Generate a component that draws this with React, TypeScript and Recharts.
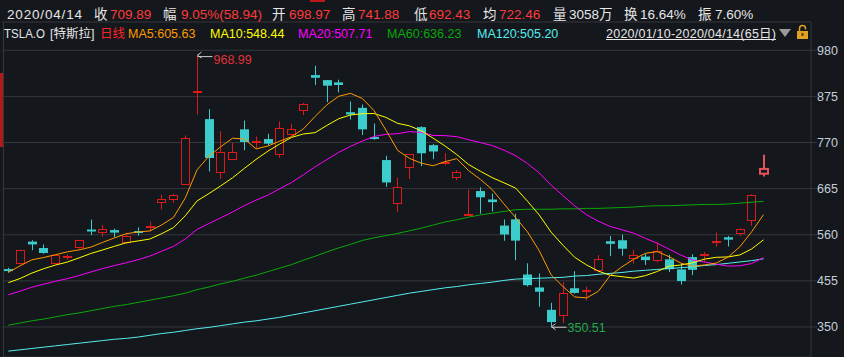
import { ComposedChart, Bar, Line, XAxis, YAxis, CartesianGrid } from 'recharts'

const FONT = "'Liberation Sans', 'Noto Sans CJK SC', sans-serif"
const BG = '#14171c'
const GRID = '#34373c'
const UP = '#dc1a1a'
const DOWN = '#3ccccc'
const PICKED = '#e4535b'

// TSLA.O daily bars, 2020/01/10 - 2020/04/14
const dates = [
  '2020/01/10', '2020/01/13', '2020/01/14', '2020/01/15', '2020/01/16', '2020/01/17', '2020/01/21', '2020/01/22',
  '2020/01/23', '2020/01/24', '2020/01/27', '2020/01/28', '2020/01/29', '2020/01/30', '2020/01/31',
  '2020/02/03', '2020/02/04', '2020/02/05', '2020/02/06', '2020/02/07', '2020/02/10', '2020/02/11', '2020/02/12',
  '2020/02/13', '2020/02/14', '2020/02/18', '2020/02/19', '2020/02/20', '2020/02/21', '2020/02/24', '2020/02/25',
  '2020/02/26', '2020/02/27', '2020/02/28',
  '2020/03/02', '2020/03/03', '2020/03/04', '2020/03/05', '2020/03/06', '2020/03/09', '2020/03/10', '2020/03/11',
  '2020/03/12', '2020/03/13', '2020/03/16', '2020/03/17', '2020/03/18', '2020/03/19', '2020/03/20', '2020/03/23',
  '2020/03/24', '2020/03/25', '2020/03/26', '2020/03/27', '2020/03/30', '2020/03/31',
  '2020/04/01', '2020/04/02', '2020/04/03', '2020/04/06', '2020/04/07', '2020/04/08', '2020/04/09', '2020/04/13',
  '2020/04/14',
]

const opens = [
  481.79, 493.5, 544.26, 529.76, 493.75, 507.61, 530.25, 571.89, 564.25, 570.63, 541.99, 568.49, 575.69, 632.42, 640.0,
  673.69, 882.96, 823.26, 699.92, 730.55, 800.0, 768.79, 777.87, 741.84, 787.22, 841.6, 923.5, 911.99, 906.99, 839.0,
  849.0, 782.5, 730.0, 629.62,
  711.26, 805.0, 763.96, 723.77, 690.0, 605.39, 659.43, 640.2, 580.89, 595.0, 469.5, 440.01, 389.0, 374.7, 438.2,
  433.6, 477.3, 545.25, 547.39, 505.0, 510.26, 501.25,
  504.0, 481.03, 509.0, 511.2, 545.0, 554.2, 562.09, 590.16, 698.97,
]
const highs = [
  484.94, 525.63, 547.41, 537.84, 514.46, 515.67, 548.58, 594.5, 582.0, 573.86, 564.44, 576.81, 589.8, 650.88, 653.0,
  786.14, 968.99, 845.98, 795.83, 769.75, 819.99, 783.51, 789.75, 818.0, 812.97, 860.0, 944.78, 912.5, 913.05, 863.5,
  856.6, 813.31, 739.76, 690.0,
  743.69, 806.98, 766.52, 745.75, 707.0, 663.0, 668.0, 653.58, 594.5, 607.57, 494.87, 471.85, 404.86, 452.0, 477.0,
  442.0, 513.69, 557.0, 560.0, 525.8, 516.65, 542.96,
  513.95, 494.26, 515.49, 521.0, 565.0, 557.21, 575.18, 652.0, 741.88,
]
const lows = [
  473.7, 492.0, 524.9, 516.79, 492.17, 503.16, 528.41, 559.1, 555.6, 554.26, 539.28, 558.08, 567.43, 618.0, 632.52,
  673.52, 833.88, 704.11, 687.0, 730.0, 752.4, 758.0, 763.37, 735.0, 785.5, 832.36, 901.02, 862.0, 884.0, 822.27,
  787.0, 776.11, 669.0, 611.52,
  686.67, 716.11, 732.2, 718.07, 684.27, 605.0, 608.0, 613.0, 546.25, 502.0, 442.17, 396.0, 350.51, 358.46, 425.79,
  410.42, 474.0, 511.11, 512.25, 494.03, 491.23, 497.0,
  475.1, 446.4, 468.0, 497.96, 532.34, 533.33, 557.11, 580.53, 692.43,
]
const closes = [
  478.15, 524.86, 537.92, 518.5, 513.49, 510.5, 547.2, 569.56, 572.2, 564.82, 558.02, 566.9, 580.99, 640.81, 650.57,
  780.0, 887.06, 734.7, 748.96, 748.07, 771.28, 774.38, 767.29, 804.0, 800.03, 858.4, 917.42, 899.41, 901.0, 833.79,
  799.91, 778.8, 679.0, 667.99,
  743.62, 745.51, 749.5, 724.54, 703.48, 608.0, 645.33, 634.23, 560.55, 546.62, 445.07, 430.2, 361.22, 427.64, 427.53,
  434.29, 505.0, 539.25, 528.16, 514.36, 502.13, 524.0,
  481.56, 454.47, 480.01, 516.24, 545.45, 548.84, 573.0, 650.95, 709.89,
]
// closes of the 19 sessions before 2020/01/10 (feed MA5 / MA10 / MA20)
const priorCloses = [
  359.68, 358.39, 381.5, 378.99, 393.15, 404.04, 405.59, 419.22, 425.25, 430.94, 430.38, 414.7, 418.33, 430.26,
  443.01, 451.54, 469.06, 492.14, 481.34,
]
// long averages
const ma60Values = [
  354, 359, 364, 368, 373, 378, 382, 387, 392, 397, 401, 406, 411, 416, 421,
  427, 435, 441, 448, 454, 461, 468, 476, 484, 492, 502, 511, 521, 530, 538,
  547, 553, 558, 563,
  569, 575, 582, 589, 594, 600, 605, 609, 613, 617, 618, 618, 618, 619, 619,
  620, 620, 621, 622, 623, 625, 626,
  626, 627, 628, 629, 629, 630, 632, 634, 636.23,
]
const ma120Values = [
  295, 298, 301, 304, 307, 310, 313, 316, 319, 322, 324, 327, 331, 335, 338,
  342, 346, 349, 353, 357, 361, 364, 368, 372, 377, 382, 387, 392, 397, 402,
  407, 412, 417, 422,
  427, 431, 435, 439, 442, 446, 449, 452, 456, 459, 460, 461, 462, 463, 466,
  467, 470, 472, 474, 477, 479, 481,
  483, 485, 487, 490, 492, 495, 498, 501, 505.2,
]
const yTicks = [350, 455, 560, 665, 770, 875, 980]
const monthStarts = ['2020/02/03', '2020/03/02', '2020/04/01']

function movingAverage(n: number) {
  const all = [...priorCloses, ...closes]
  return closes.map((_, i) => {
    const end = priorCloses.length + i + 1
    const win = all.slice(end - n, end)
    return win.reduce((a, b) => a + b, 0) / n
  })
}

const ma5 = movingAverage(5)
const ma10 = movingAverage(10)
const ma20 = movingAverage(20)

const data = dates.map((date, i) => ({
  date,
  open: opens[i],
  high: highs[i],
  low: lows[i],
  close: closes[i],
  range: [lows[i], highs[i]],
  ma5: ma5[i],
  ma10: ma10[i],
  ma20: ma20[i],
  ma60: ma60Values[i],
  ma120: ma120Values[i],
}))

const last = data.length - 1
const maxHighIdx = highs.indexOf(Math.max(...highs))
const minLowIdx = lows.indexOf(Math.min(...lows))

// month separators: centre of the first session of each month
function monthLines({ xAxis }: any) {
  try {
    const scale = xAxis.scale
    const bw = typeof scale.bandwidth === 'function' ? scale.bandwidth() : 0
    return monthStarts.map((d) => Math.round(scale(d) + bw / 2) + 0.5)
  } catch (e) {
    return []
  }
}

function Candle(props: any) {
  const { x, y, width, height, payload, index } = props
  if (x == null || payload == null) return null
  const { open, close, high, low } = payload
  const top = Math.min(y, y + height)
  const h = Math.abs(height)
  const span = high - low || 1
  const py = (v: number) => top + ((high - v) / span) * h
  const cx = Math.round(x + width / 2)
  const left = cx - 4
  const wx = cx + 0.5
  const up = close >= open
  const bTop = py(Math.max(open, close))
  const bBot = py(Math.min(open, close))
  const bh = bBot - bTop
  const picked = index === last

  let body
  if (picked) {
    body = (
      <g>
        <line x1={wx + 0.5} x2={wx + 0.5} y1={py(high)} y2={py(low)} stroke={PICKED} strokeWidth={2} />
        <rect x={left + 1} y={bTop} width={8} height={Math.max(bh, 2)} fill={BG} stroke={PICKED} strokeWidth={2} />
      </g>
    )
  } else if (up) {
    const t = Math.round(bTop)
    const b = Math.max(Math.round(bBot), t + 1)
    body = (
      <g>
        <line x1={wx} x2={wx} y1={py(high)} y2={t} stroke={UP} />
        <line x1={wx} x2={wx} y1={b} y2={py(low)} stroke={UP} />
        {b - t <= 2 ? (
          <rect x={left} y={t} width={9} height={2} fill={UP} />
        ) : (
          <rect x={left + 0.5} y={t + 0.5} width={8} height={b - t - 1} fill={BG} stroke={UP} />
        )}
      </g>
    )
  } else {
    body = (
      <g>
        <line x1={wx} x2={wx} y1={py(high)} y2={py(low)} stroke={DOWN} />
        <rect x={left} y={bTop} width={9} height={Math.max(bh, 2)} fill={DOWN} />
      </g>
    )
  }

  let note = null
  if (index === maxHighIdx) {
    const ty = py(high)
    note = (
      <g>
        <polyline points={`${wx + 4},${ty - 3} ${wx},${ty} ${wx + 4},${ty + 3}`} stroke="#cfcfcf" fill="none" />
        <line x1={wx} y1={ty + 1.5} x2={wx + 15} y2={ty + 1.5} stroke="#cfcfcf" />
        <text x={wx + 16} y={ty + 9} fill="#e0323a" fontSize={12.5} fontFamily={FONT}>
          {high.toFixed(2)}
        </text>
      </g>
    )
  } else if (index === minLowIdx) {
    const ty = py(low)
    note = (
      <g>
        <polyline points={`${wx + 4},${ty - 3} ${wx},${ty} ${wx + 4},${ty + 3}`} stroke="#cfcfcf" fill="none" />
        <line x1={wx} y1={ty + 0.5} x2={wx + 15} y2={ty + 0.5} stroke="#cfcfcf" />
        <text x={wx + 16} y={ty + 5} fill="#24a84a" fontSize={12.5} fontFamily={FONT}>
          {low.toFixed(2)}
        </text>
      </g>
    )
  }

  return (
    <g>
      {body}
      {note}
    </g>
  )
}

export default function App() {
  const cur = data[last]
  const prevClose = closes[last - 1]
  const chg = cur.close - prevClose
  const pct = (chg / prevClose) * 100
  const amp = ((cur.high - cur.low) / prevClose) * 100
  const W = '#e6e6e6'
  const R = '#ff3b3b'

  return (
    <div style={{ position: 'absolute', left: 0, top: 0, width: 844, height: 357, background: BG, overflow: 'hidden' }}>
      <ComposedChart width={844} height={357} data={data} margin={{ top: 22, right: 0, bottom: 0, left: 2.4 }}>
        <CartesianGrid horizontal vertical stroke={GRID} verticalCoordinatesGenerator={monthLines} />
        <XAxis dataKey="date" hide padding={{ left: 0, right: 41.6 }} />
        <YAxis
          orientation="right"
          width={33}
          type="number"
          domain={[281.6, 1044.4]}
          allowDataOverflow
          ticks={yTicks}
          tickSize={6}
          tickMargin={0}
          axisLine={{ stroke: GRID }}
          tickLine={{ stroke: GRID }}
          tick={{ fill: '#c5ced8', fontSize: 12.5, fontFamily: FONT }}
        />
        <Bar dataKey="range" barSize={9} shape={(p: any) => <Candle {...p} />} isAnimationActive={false} />
        <Line dataKey="ma120" stroke="#55eeee" strokeWidth={1} dot={false} activeDot={false} isAnimationActive={false} />
        <Line dataKey="ma60" stroke="#0aa80a" strokeWidth={1} dot={false} activeDot={false} isAnimationActive={false} />
        <Line dataKey="ma20" stroke="#ff00ff" strokeWidth={1} dot={false} activeDot={false} isAnimationActive={false} />
        <Line dataKey="ma10" stroke="#ffff00" strokeWidth={1} dot={false} activeDot={false} isAnimationActive={false} />
        <Line dataKey="ma5" stroke="#ff9a00" strokeWidth={1} dot={false} activeDot={false} isAnimationActive={false} />
      </ComposedChart>

      <div style={{ position: 'absolute', left: 3, top: 22, width: 1, height: 335, background: GRID }} />
      <div style={{ position: 'absolute', left: 0, top: 73, width: 3, height: 74, background: '#b3191b' }} />

      <svg width={844} height={45} style={{ position: 'absolute', left: 0, top: 0, pointerEvents: 'none' }}>
        <rect x={310} y={0} width={15} height={2} fill="#c01818" />
        <g fontFamily={FONT} fontSize={13.5}>
          <text x={7} y={18.5} fill={W} textLength={75} lengthAdjust="spacing">{cur.date}</text>
          <text x={94} y={18.5} fill={W}>收</text>
          <text x={110} y={18.5} fill={R}>{cur.close.toFixed(2)}</text>
          <text x={163} y={18.5} fill={W}>幅</text>
          <text x={181} y={18.5} fill={R}>{`${pct.toFixed(2)}%(${chg.toFixed(2)})`}</text>
          <text x={272} y={18.5} fill={W}>开</text>
          <text x={289} y={18.5} fill={R}>{cur.open.toFixed(2)}</text>
          <text x={342} y={18.5} fill={W}>高</text>
          <text x={358} y={18.5} fill={R}>{cur.high.toFixed(2)}</text>
          <text x={414} y={18.5} fill={W}>低</text>
          <text x={429} y={18.5} fill={R}>{cur.low.toFixed(2)}</text>
          <text x={483} y={18.5} fill={W}>均</text>
          <text x={499} y={18.5} fill={R}>722.46</text>
          <text x={553} y={18.5} fill={W}>量</text>
          <text x={569} y={18.5} fill={W}>3058万</text>
          <text x={624} y={18.5} fill={W}>换</text>
          <text x={640} y={18.5} fill={W}>16.64%</text>
          <text x={698} y={18.5} fill={W}>振</text>
          <text x={715} y={18.5} fill={W}>{`${amp.toFixed(2)}%`}</text>
        </g>
        <g fontFamily={FONT} fontSize={12.5}>
          <text x={4} y={37.5} fill={W} textLength={41} lengthAdjust="spacingAndGlyphs">TSLA.O</text>
          <text x={50} y={37.5} fill={W}>[特斯拉]</text>
          <text x={100} y={37.5} fill="#ff2424">日线</text>
          <text x={128} y={37.5} fill="#ff9a00">{`MA5:${ma5[last].toFixed(2)}`}</text>
          <text x={210} y={37.5} fill="#ffff00">{`MA10:${ma10[last].toFixed(2)}`}</text>
          <text x={298} y={37.5} fill="#ff00ff">{`MA20:${ma20[last].toFixed(2)}`}</text>
          <text x={387} y={37.5} fill="#0aa80a">{`MA60:${ma60Values[last].toFixed(2)}`}</text>
          <text x={477} y={37.5} fill="#55eeee">{`MA120:${ma120Values[last].toFixed(2)}`}</text>
          <text x={606} y={37.5} fill={W} textLength={170} lengthAdjust="spacing">
            {`${dates[0]}-${dates[last]}(${dates.length}日)`}
          </text>
        </g>
        <line x1={606} x2={776} y1={39.5} y2={39.5} stroke={W} />
        <polygon points="779,29 791,29 785,37" fill="#9a9a9a" />
        <path d="M799.5 31 V28.5 a3 3 0 0 1 6 0 V29.5" stroke="#e0a020" strokeWidth={1.5} fill="none" />
        <rect x={797} y={31} width={11} height={8} fill="#e0a020" />
        <rect x={801.5} y={33} width={2} height={3} fill="#5a3a00" />
      </svg>
    </div>
  )
}
